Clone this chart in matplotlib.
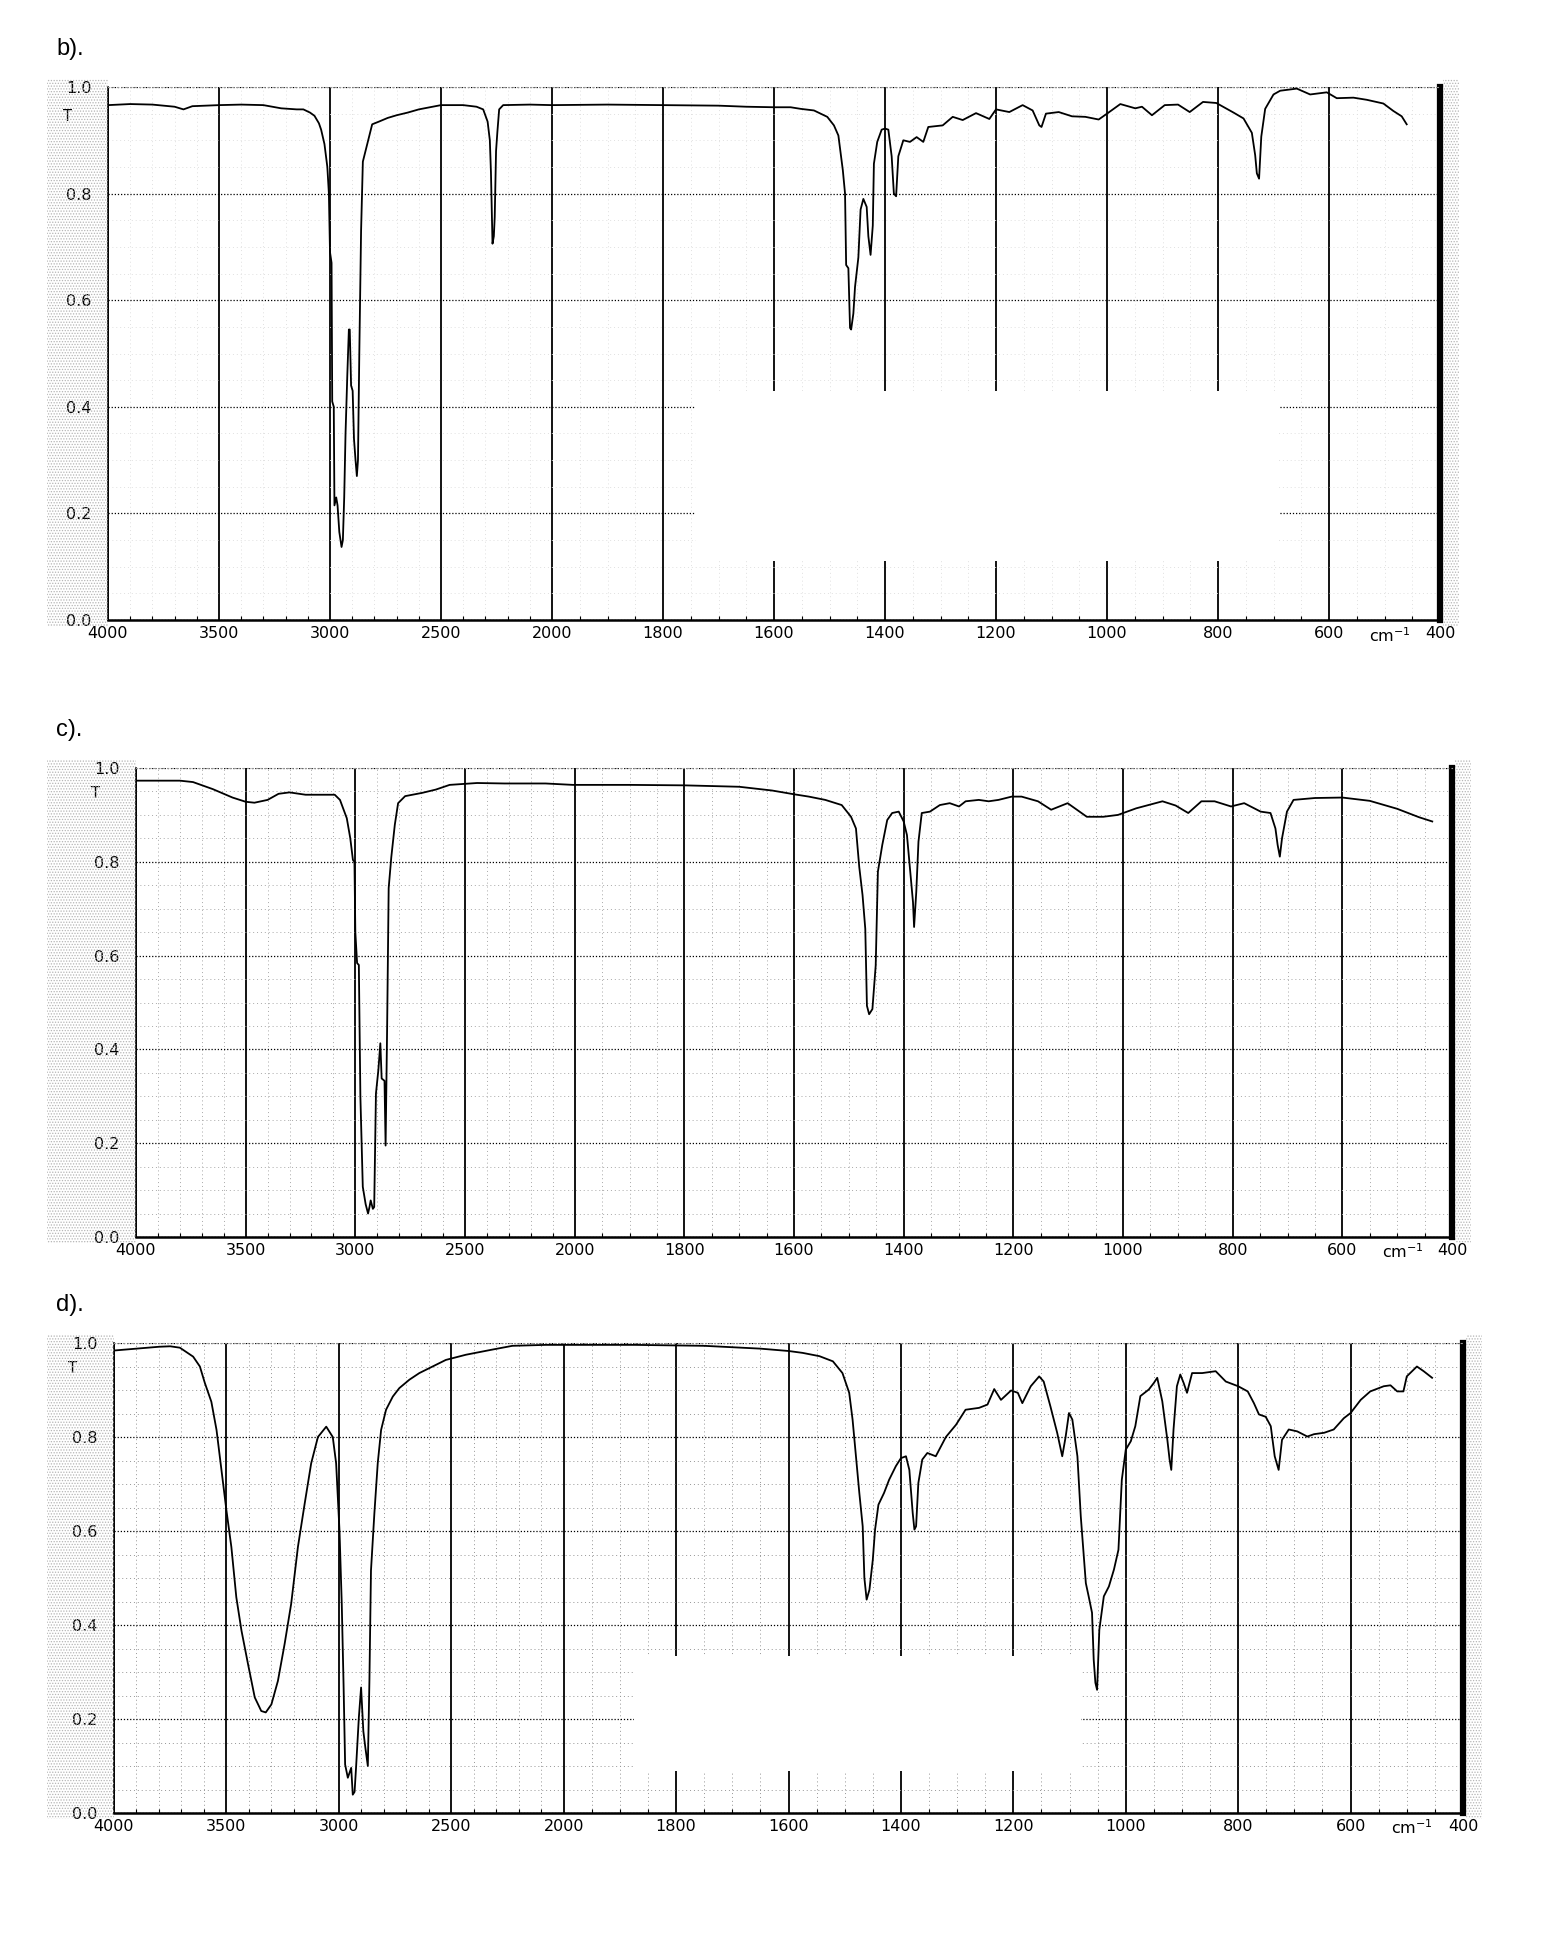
import numpy as np
import matplotlib
matplotlib.use("Agg")
import matplotlib.pyplot as plt
from matplotlib.patches import Rectangle

# ---- spectrum b) ----
wn_b = [4000, 3900, 3800, 3700, 3660, 3620, 3560, 3500, 3400, 3300, 3220, 3150, 3120, 3090,
        3070, 3050, 3040, 3025, 3012, 3005, 3000, 2993, 2990, 2983, 2980, 2972, 2966, 2958,
        2948, 2942, 2936, 2930, 2922, 2915, 2911, 2905, 2898, 2892, 2885, 2879, 2874, 2868,
        2860, 2852, 2840, 2828, 2810, 2780, 2740, 2700, 2650, 2600, 2550, 2500, 2400, 2340,
        2310, 2290, 2280, 2275, 2268, 2262, 2258, 2252, 2246, 2238, 2220, 2100, 2000, 1900,
        1800, 1700, 1650, 1600, 1570, 1552, 1528, 1504, 1492, 1484, 1476, 1472, 1470, 1466,
        1463, 1461, 1457, 1454, 1448, 1444, 1439, 1433, 1430, 1426, 1422, 1420, 1414, 1406,
        1400, 1394, 1388, 1384, 1380, 1376, 1367, 1355, 1343, 1331, 1322, 1296, 1278, 1260,
        1236, 1212, 1200, 1176, 1152, 1134, 1122, 1118, 1110, 1087, 1063, 1039, 1015, 1000,
        976, 949, 937, 919, 896, 872, 851, 827, 803, 772, 754, 739, 733, 730, 726, 722, 715,
        700, 688, 658, 634, 604, 586, 556, 532, 502, 484, 469, 460]
t_b = [0.966, 0.968, 0.967, 0.963, 0.958, 0.964, 0.965, 0.966, 0.967, 0.966, 0.960, 0.958,
       0.958, 0.952, 0.946, 0.932, 0.920, 0.893, 0.850, 0.800, 0.690, 0.670, 0.410, 0.400,
       0.215, 0.230, 0.215, 0.165, 0.137, 0.150, 0.230, 0.350, 0.460, 0.545, 0.545, 0.440,
       0.430, 0.340, 0.300, 0.270, 0.300, 0.500, 0.730, 0.860, 0.880, 0.900, 0.930, 0.935,
       0.942, 0.947, 0.952, 0.958, 0.962, 0.966, 0.966, 0.963, 0.958, 0.935, 0.900, 0.840,
       0.706, 0.720, 0.756, 0.880, 0.916, 0.958, 0.966, 0.967, 0.966, 0.967, 0.966, 0.965,
       0.963, 0.962, 0.962, 0.959, 0.956, 0.944, 0.928, 0.909, 0.844, 0.800, 0.666, 0.660,
       0.548, 0.545, 0.575, 0.625, 0.680, 0.770, 0.790, 0.775, 0.720, 0.685, 0.740, 0.856,
       0.897, 0.920, 0.922, 0.920, 0.870, 0.800, 0.795, 0.870, 0.900, 0.897, 0.906, 0.897,
       0.925, 0.928, 0.944, 0.938, 0.951, 0.940, 0.958, 0.953, 0.966, 0.956, 0.928, 0.925,
       0.950, 0.953, 0.945, 0.944, 0.939, 0.950, 0.968, 0.960, 0.963, 0.947, 0.966, 0.967,
       0.953, 0.972, 0.970, 0.952, 0.941, 0.914, 0.872, 0.838, 0.828, 0.907, 0.959, 0.986,
       0.993, 0.997, 0.986, 0.990, 0.979, 0.980, 0.976, 0.969, 0.955, 0.945, 0.930]

# ---- spectrum c) ----
wn_c = [4000, 3900, 3800, 3740, 3650, 3560, 3500, 3460, 3400, 3350, 3300, 3227, 3094, 3070,
        3039, 3023, 3011, 3004, 3000, 2992, 2984, 2977, 2966, 2953, 2942, 2935, 2930, 2920,
        2914, 2906, 2895, 2886, 2880, 2867, 2862, 2855, 2848, 2836, 2820, 2805, 2773, 2695,
        2633, 2570, 2445, 2320, 2133, 2008, 1900, 1800, 1700, 1640, 1600, 1573, 1543, 1513,
        1496, 1487, 1481, 1475, 1470, 1467, 1463, 1457, 1451, 1447, 1439, 1430, 1421, 1409,
        1400, 1394, 1388, 1383, 1381, 1377, 1373, 1367, 1352, 1334, 1316, 1299, 1287, 1263,
        1245, 1227, 1203, 1185, 1155, 1131, 1101, 1066, 1036, 1009, 976, 928, 904, 881, 857,
        833, 803, 779, 749, 731, 722, 718, 714, 710, 701, 689, 650, 600, 550, 500, 460, 436]
t_c = [0.973, 0.973, 0.973, 0.970, 0.955, 0.937, 0.928, 0.926, 0.932, 0.945, 0.948, 0.943,
       0.943, 0.932, 0.893, 0.850, 0.804, 0.800, 0.650, 0.584, 0.580, 0.300, 0.107, 0.070,
       0.050, 0.065, 0.078, 0.060, 0.064, 0.306, 0.356, 0.413, 0.338, 0.333, 0.195, 0.448,
       0.744, 0.810, 0.879, 0.925, 0.940, 0.947, 0.954, 0.964, 0.968, 0.967, 0.967, 0.964,
       0.964, 0.963, 0.960, 0.952, 0.944, 0.939, 0.932, 0.921, 0.896, 0.871, 0.789, 0.729,
       0.657, 0.493, 0.475, 0.486, 0.579, 0.779, 0.836, 0.889, 0.904, 0.907, 0.886, 0.857,
       0.779, 0.714, 0.661, 0.736, 0.843, 0.904, 0.907, 0.921, 0.925, 0.918, 0.929, 0.932,
       0.929, 0.932, 0.939, 0.939, 0.929, 0.911, 0.925, 0.896, 0.896, 0.900, 0.914, 0.929,
       0.920, 0.904, 0.929, 0.929, 0.918, 0.925, 0.907, 0.904, 0.871, 0.836, 0.811, 0.850,
       0.907, 0.932, 0.936, 0.937, 0.930, 0.913, 0.895, 0.886]

# ---- spectrum d) ----
wn_d = [4000, 3900, 3800, 3750, 3707, 3648, 3618, 3596, 3567, 3544, 3522, 3500, 3478, 3456,
        3433, 3404, 3374, 3345, 3325, 3300, 3271, 3241, 3212, 3182, 3152, 3123, 3093, 3056,
        3027, 3012, 2997, 2987, 2979, 2972, 2960, 2945, 2938, 2930, 2923, 2911, 2901, 2891,
        2882, 2871, 2864, 2857, 2842, 2827, 2812, 2790, 2760, 2731, 2686, 2642, 2583, 2524,
        2435, 2317, 2228, 2080, 1873, 1750, 1650, 1600, 1575, 1545, 1521, 1504, 1492, 1486,
        1480, 1474, 1468, 1465, 1461, 1456, 1450, 1446, 1440, 1430, 1421, 1409, 1400, 1391,
        1385, 1379, 1376, 1373, 1369, 1362, 1353, 1338, 1320, 1302, 1285, 1261, 1246, 1234,
        1222, 1204, 1192, 1184, 1169, 1154, 1146, 1134, 1122, 1113, 1107, 1101, 1095, 1086,
        1080, 1071, 1066, 1060, 1057, 1054, 1051, 1047, 1039, 1030, 1021, 1013, 1007, 1000,
        991, 983, 974, 959, 950, 944, 935, 926, 922, 919, 915, 909, 903, 897, 891, 882, 864,
        840, 822, 800, 783, 772, 763, 751, 742, 735, 728, 722, 710, 695, 677, 665, 647, 630,
        612, 600, 582, 565, 541, 529, 517, 506, 500, 482, 470, 455]
t_d = [0.984, 0.988, 0.992, 0.993, 0.990, 0.971, 0.950, 0.915, 0.875, 0.815, 0.730, 0.644,
       0.566, 0.459, 0.388, 0.317, 0.246, 0.217, 0.214, 0.231, 0.281, 0.360, 0.445, 0.566,
       0.658, 0.744, 0.800, 0.822, 0.800, 0.744, 0.600, 0.445, 0.274, 0.103, 0.075, 0.096,
       0.039, 0.045, 0.100, 0.203, 0.267, 0.174, 0.139, 0.100, 0.281, 0.516, 0.637, 0.744,
       0.815, 0.858, 0.886, 0.904, 0.922, 0.936, 0.950, 0.964, 0.975, 0.986, 0.994, 0.996,
       0.996, 0.994, 0.988, 0.983, 0.979, 0.972, 0.961, 0.936, 0.894, 0.837, 0.759, 0.681,
       0.610, 0.500, 0.454, 0.475, 0.539, 0.603, 0.656, 0.681, 0.709, 0.738, 0.755, 0.759,
       0.730, 0.638, 0.603, 0.610, 0.702, 0.752, 0.766, 0.759, 0.800, 0.826, 0.858, 0.862,
       0.869, 0.902, 0.879, 0.899, 0.894, 0.872, 0.908, 0.929, 0.918, 0.865, 0.809, 0.759,
       0.800, 0.851, 0.837, 0.759, 0.631, 0.489, 0.461, 0.426, 0.326, 0.277, 0.262, 0.390,
       0.461, 0.482, 0.518, 0.560, 0.709, 0.773, 0.791, 0.823, 0.887, 0.901, 0.915, 0.926,
       0.876, 0.794, 0.752, 0.730, 0.816, 0.908, 0.933, 0.915, 0.894, 0.936, 0.936, 0.940,
       0.918, 0.908, 0.897, 0.872, 0.848, 0.843, 0.823, 0.759, 0.730, 0.794, 0.816, 0.812,
       0.801, 0.806, 0.809, 0.816, 0.840, 0.851, 0.879, 0.897, 0.908, 0.910, 0.897, 0.897,
       0.929, 0.950, 0.940, 0.926]

x_ticks = [4000, 3500, 3000, 2500, 2000, 1800, 1600, 1400, 1200, 1000, 800, 600, 400]
y_ticks = [0.0, 0.2, 0.4, 0.6, 0.8, 1.0]

panels = [
    # label, wn, t, box in pixels (left, top, right, bottom), blank area (w1, w2, t1, t2), minor grid colour
    ("b).", wn_b, t_b, (108, 87, 1440, 620), (1740, 690, 0.11, 0.43), "#e0e0e0"),
    ("c).", wn_c, t_c, (136, 768, 1452, 1237), None, "#a8a8a8"),
    ("d).", wn_d, t_d, (114, 1343, 1463, 1813), (1875, 1080, 0.09, 0.335), "#959595"),
]

W, H = 1551, 1938


def fwd(w):
    # number of chart divisions counted from 400 cm-1:
    # 200 cm-1 per division below 2000, 500 cm-1 per division above
    w = np.asarray(w, dtype=float)
    return np.where(w >= 2000, 8 + (w - 2000) / 500.0, (w - 400) / 200.0)


def inv(p):
    p = np.asarray(p, dtype=float)
    return np.where(p >= 8, 2000 + 500 * (p - 8), 400 + 200 * p)


plt.rcParams["hatch.linewidth"] = 0.6
fig = plt.figure(figsize=(W / 100, H / 100), dpi=100)
fig.patch.set_facecolor("white")

minor_x = [w for w in list(range(3900, 2000, -100)) + list(range(1950, 400, -50))
           if w not in x_ticks]
minor_y = [v for v in np.arange(0.05, 1.0, 0.05).round(2) if v not in y_ticks]

for label, wn, t, (l, tp, r, bt), blank, mcol in panels:
    # scanned grey speckle at both sides
    fig.patches.append(Rectangle((47 / W, 1 - (bt + 6) / H), (l - 47) / W, (bt - tp + 14) / H,
                                 transform=fig.transFigure, facecolor="none",
                                 edgecolor="#b5b5b5", hatch="......", lw=0, zorder=0))
    fig.patches.append(Rectangle(((r + 3) / W, 1 - (bt + 6) / H), 16 / W, (bt - tp + 14) / H,
                                 transform=fig.transFigure, facecolor="none",
                                 edgecolor="#b5b5b5", hatch="......", lw=0, zorder=0))

    ax = fig.add_axes([l / W, 1 - bt / H, (r - l) / W, (bt - tp) / H])
    ax.set_facecolor("none")
    ax.set_xscale("function", functions=(fwd, inv))
    ax.set_xlim(4000, 400)
    ax.set_ylim(0, 1.0)

    ax.set_xticks(x_ticks)
    ax.set_xticklabels([str(v) for v in x_ticks])
    ax.set_xticks(minor_x, minor=True)
    ax.set_yticks(y_ticks)
    ax.set_yticklabels(["%.1f" % v for v in y_ticks])
    ax.set_yticks(minor_y, minor=True)

    ax.set_axisbelow(True)
    ax.grid(axis="x", which="major", color="black", lw=1.3, ls="-")
    ax.grid(axis="y", which="major", color="black", lw=0.9, ls=(0, (1, 1.5)))
    ax.grid(which="minor", color=mcol, lw=0.7, ls=(0, (1, 3)))

    ax.tick_params(axis="x", which="major", length=0, pad=4, labelsize=11.5)
    ax.tick_params(axis="x", which="minor", direction="in", length=3, width=0.8)
    ax.tick_params(axis="y", which="both", length=0, pad=12, labelsize=11.5)

    ax.spines["top"].set_linestyle((0, (1, 3)))
    ax.spines["top"].set_color("#999999")
    ax.spines["top"].set_linewidth(0.8)
    ax.spines["left"].set_linewidth(1.2)
    ax.spines["bottom"].set_linewidth(1.8)
    ax.spines["right"].set_linewidth(4.5)

    # faded part of the scan where the grid is missing
    if blank is not None:
        w1, w2, t1, t2 = blank
        ax.add_patch(Rectangle((w1, t1), w2 - w1, t2 - t1, facecolor="white",
                               edgecolor="none", zorder=1.5))

    ax.plot(wn, t, color="black", lw=1.3, zorder=3)

    ax.text(-0.034, 0.945, "T", transform=ax.transAxes, fontsize=10.5, ha="left", va="center")
    ax.text(490, -0.012, "cm$^{-1}$", transform=ax.get_xaxis_transform(), fontsize=11.5,
            ha="center", va="top")
    fig.text(56 / W, 1 - (tp - 38) / H, label, fontsize=17,
             family=["Liberation Sans Narrow", "Liberation Sans", "DejaVu Sans"],
             ha="left", va="center")

fig.savefig("out.png", dpi=100, facecolor="white")
